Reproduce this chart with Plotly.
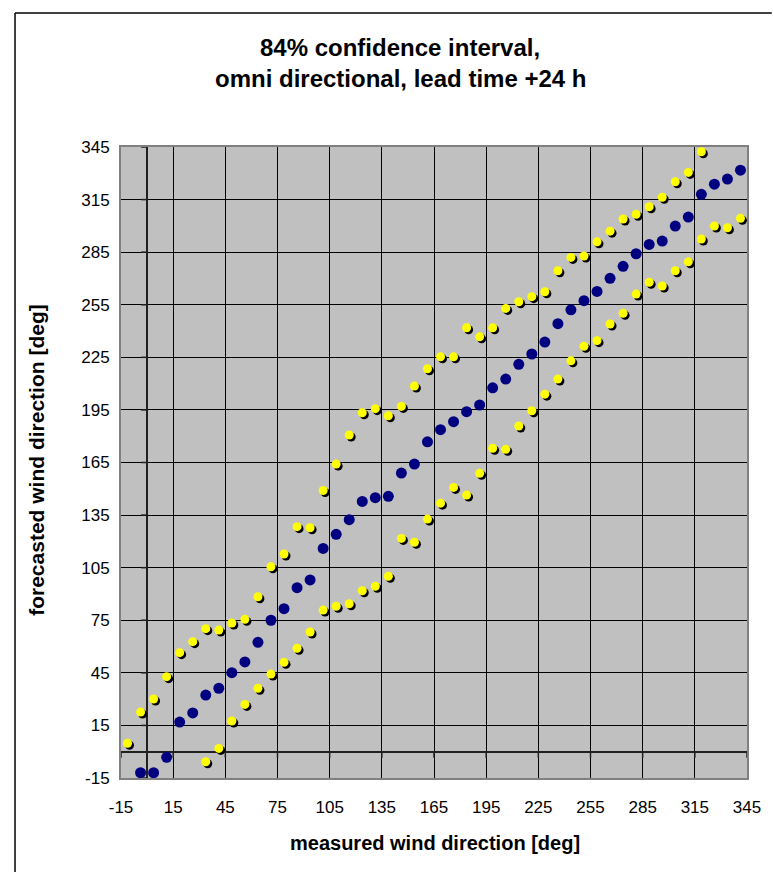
import plotly.graph_objects as go

# ---------------- data ----------------
median_x = [-3.75, 3.75, 11.25, 18.75, 26.25, 33.75, 41.25, 48.75, 56.25, 63.75,
            71.25, 78.75, 86.25, 93.75, 101.25, 108.75, 116.25, 123.75, 131.25, 138.75,
            146.25, 153.75, 161.25, 168.75, 176.25, 183.75, 191.25, 198.75, 206.25, 213.75,
            221.25, 228.75, 236.25, 243.75, 251.25, 258.75, 266.25, 273.75, 281.25, 288.75,
            296.25, 303.75, 311.25, 318.75, 326.25, 333.75, 341.25]
median_y = [-12, -12, -3.2, 16.9, 22.1, 32.3, 36.2, 45.1, 51.2, 62.4,
            75, 81.6, 93.6, 98, 116, 124, 132.4, 142.8, 144.9, 145.7,
            159, 164.1, 176.8, 183.7, 188.3, 194, 197.8, 207.6, 212.6, 221,
            226.9, 233.7, 244.2, 252.1, 257.3, 262.6, 270.1, 276.9, 284.1, 289.4,
            291.3, 299.9, 305, 318, 323.8, 326.7, 331.8]

upper_x = [-11.25, -3.75, 3.75, 11.25, 18.75, 26.25, 33.75, 41.25, 48.75, 56.25,
           63.75, 71.25, 78.75, 86.25, 93.75, 101.25, 108.75, 116.25, 123.75, 131.25,
           138.75, 146.25, 153.75, 161.25, 168.75, 176.25, 183.75, 191.25, 198.75, 206.25,
           213.75, 221.25, 228.75, 236.25, 243.75, 251.25, 258.75, 266.25, 273.75, 281.25,
           288.75, 296.25, 303.75, 311.25, 318.75]
upper_y = [4.8, 22.6, 30.1, 42.8, 56.5, 62.8, 70.2, 69.4, 73.4, 75.5,
           88.4, 105.5, 112.8, 128.4, 127.8, 149, 164.1, 180.7, 193.4, 195.7,
           191.7, 197, 208.6, 218.5, 225.3, 225.3, 241.9, 236.7, 241.9, 252.9,
           256.7, 259.6, 262.4, 274.4, 282, 282.8, 290.9, 297, 303.9, 306.6,
           310.9, 316.3, 325.2, 330.5, 342.3]

lower_x = [33.75, 41.25, 48.75, 56.25, 63.75, 71.25, 78.75, 86.25, 93.75, 101.25,
           108.75, 116.25, 123.75, 131.25, 138.75, 146.25, 153.75, 161.25, 168.75, 176.25,
           183.75, 191.25, 198.75, 206.25, 213.75, 221.25, 228.75, 236.25, 243.75, 251.25,
           258.75, 266.25, 273.75, 281.25, 288.75, 296.25, 303.75, 311.25, 318.75, 326.25,
           333.75, 341.25]
lower_y = [-5.7, 1.9, 17.5, 27, 36.2, 44.3, 51, 59, 68.3, 80.8,
           83, 84.4, 91.8, 94.4, 100.1, 121.7, 119.5, 132.7, 141.8, 150.8,
           146.4, 158.8, 173.1, 172.5, 185.8, 194.5, 204, 212.6, 223, 231.3,
           234.5, 244, 250.1, 261.1, 267.8, 265.7, 274.4, 279.5, 292.5, 299.9,
           298.9, 304.3]

tick_vals = [-15, 15, 45, 75, 105, 135, 165, 195, 225, 255, 285, 315, 345]
tick_text = [str(v) for v in tick_vals]

title_lines = ["84% confidence interval,", "omni directional, lead time +24 h"]
x_title = "measured wind direction [deg]"
y_title = "forecasted wind direction [deg]"

# ---------------- layout geometry ----------------
W, H = 773, 872
L, R, T, B = 121, 20, 147, 94
PW, PH = W - L - R, H - T - B
XR = [-15, 345]
YR = [-15, 345]
shadow_dx = 2 * (XR[1] - XR[0]) / PW
shadow_dy = 2 * (YR[1] - YR[0]) / PH

FONT = "Liberation Sans, Arial, sans-serif"

fig = go.Figure()

# shadows of yellow markers
fig.add_trace(go.Scatter(
    x=[v + shadow_dx for v in upper_x + lower_x],
    y=[v - shadow_dy for v in upper_y + lower_y],
    mode="markers", marker=dict(color="black", size=9, line=dict(width=0)),
    hoverinfo="skip", showlegend=False))
fig.add_trace(go.Scatter(x=upper_x, y=upper_y, mode="markers", name="upper",
                         marker=dict(color="#FFFF00", size=9, line=dict(width=0)),
                         showlegend=False))
fig.add_trace(go.Scatter(x=lower_x, y=lower_y, mode="markers", name="lower",
                         marker=dict(color="#FFFF00", size=9, line=dict(width=0)),
                         showlegend=False))
fig.add_trace(go.Scatter(x=median_x, y=median_y, mode="markers", name="median",
                         marker=dict(color="#000080", size=11, line=dict(width=0)),
                         showlegend=False))

axis_common = dict(
    tickmode="array", tickvals=tick_vals, ticktext=tick_text,
    showgrid=True, gridcolor="black", gridwidth=1,
    zeroline=True, zerolinecolor="#202020", zerolinewidth=2,
    showline=True, linecolor="#808080", linewidth=2, mirror=True,
    ticks="", tickfont=dict(family=FONT, size=17, color="black"),
    fixedrange=True,
)

fig.update_xaxes(range=XR, ticklabelstandoff=13, **axis_common)
fig.update_yaxes(range=YR, ticklabelstandoff=6, **axis_common)

shapes = []
# small tick marks on the zero axes (Excel-style axis crossing at 0)
for v in tick_vals:
    shapes.append(dict(type="line", xref="x", yref="y", xsizemode="pixel", xanchor=0,
                       x0=-6, x1=0, y0=v, y1=v, line=dict(color="#202020", width=1.5)))
    shapes.append(dict(type="line", xref="x", yref="y", ysizemode="pixel", yanchor=0,
                       y0=0, y1=-6, x0=v, x1=v, line=dict(color="#202020", width=1.5)))
# chart-area border (left and top edges visible)
bx = (14 - L) / PW
by = (H - B - 13) / PH
shapes.append(dict(type="line", xref="paper", yref="paper", x0=bx, x1=bx,
                   y0=by, y1=-(B + 5) / PH, line=dict(color="black", width=1.5)))
shapes.append(dict(type="line", xref="paper", yref="paper", x0=bx, x1=(W + 5 - L) / PW,
                   y0=by, y1=by, line=dict(color="black", width=1.5)))

annotations = [
    dict(text="<b>" + title_lines[0] + "</b>", xref="paper", yref="paper",
         x=(403 - L) / PW, y=(H - B - 47) / PH,
         xanchor="center", yanchor="middle", showarrow=False,
         font=dict(family=FONT, size=24, color="black")),
    dict(text="<b>" + title_lines[1] + "</b>", xref="paper", yref="paper",
         x=(403 - L) / PW, y=(H - B - 78) / PH,
         xanchor="center", yanchor="middle", showarrow=False,
         font=dict(family=FONT, size=24, color="black")),
    dict(text="<b>" + x_title + "</b>", xref="paper", yref="paper",
         x=(438 - L) / PW, y=-(843 - (H - B)) / PH, xanchor="center", yanchor="middle",
         showarrow=False, font=dict(family=FONT, size=20, color="black")),
    dict(text="<b>" + y_title + "</b>", xref="paper", yref="paper",
         x=(35 - L) / PW, y=(H - B - 460) / PH, xanchor="center", yanchor="middle",
         textangle=-90,
         showarrow=False, font=dict(family=FONT, size=21, color="black")),
]

fig.update_layout(
    width=W, height=H, autosize=False,
    margin=dict(l=L, r=R, t=T, b=B, pad=0),
    paper_bgcolor="white", plot_bgcolor="#C0C0C0",
    shapes=shapes, annotations=annotations,
    showlegend=False,
)

fig.write_html("out.html")
